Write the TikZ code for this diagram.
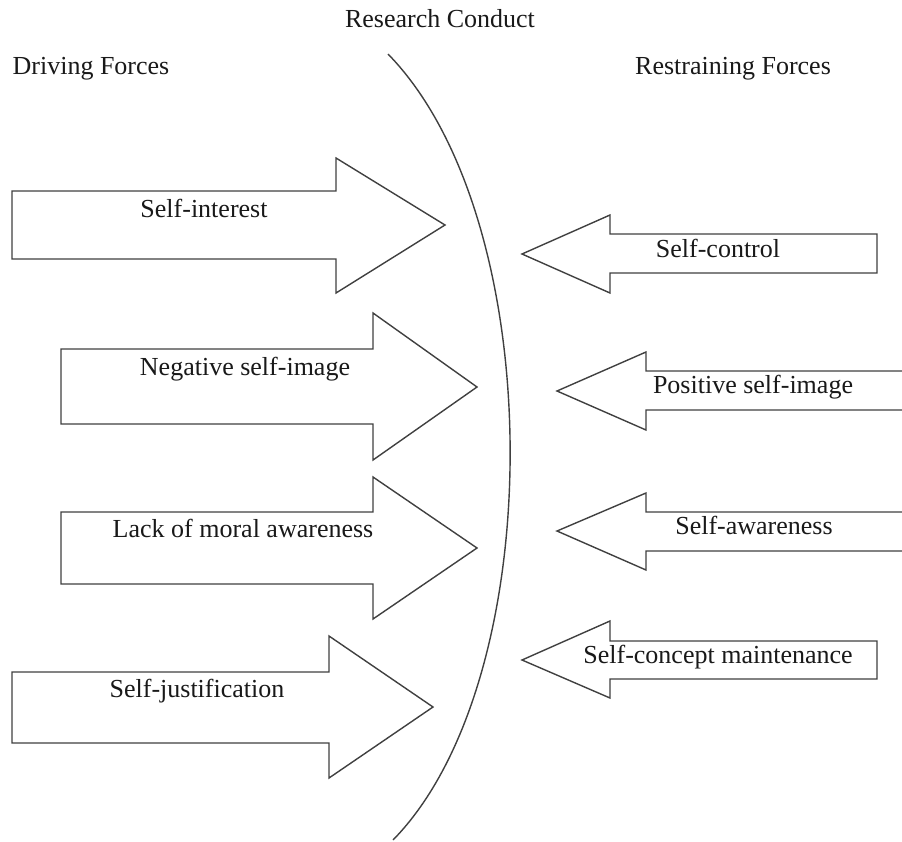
\documentclass[tikz,border=0pt]{standalone}
\usepackage{fontspec}
\setmainfont{Liberation Serif}
\begin{document}
\begin{tikzpicture}[x=1pt,y=-1pt,
  forcearrow/.style={draw=black!75,line width=1.4pt,fill=white,line join=miter},
  lbl/.style={anchor=base,inner sep=0pt,font=\fontsize{26}{30}\selectfont,text=black!90},
  conduct/.style={draw=black!75,line width=1.4pt}]
\useasboundingbox (0,0) rectangle (902,841);
% headings
\node[lbl] (hrc) at (440,27) {Research Conduct};
\node[lbl] (hdf) at (91,74) {Driving Forces};
\node[lbl] (hrf) at (733,74) {Restraining Forces};
% boundary curve
\coordinate (ctop) at (388,54);
\coordinate (cbot) at (393,840);
\draw[conduct] (ctop) .. controls (550,220) and (550,680) .. (cbot);
% driving forces
\draw[forcearrow] (12,191) -- (336,191) -- (336,158) -- (445,225) -- (336,293) -- (336,259) -- (12,259) -- cycle;
\draw[forcearrow] (61,349) -- (373,349) -- (373,313) -- (477,387) -- (373,460) -- (373,424) -- (61,424) -- cycle;
\draw[forcearrow] (61,512) -- (373,512) -- (373,477) -- (477,548) -- (373,619) -- (373,584) -- (61,584) -- cycle;
\draw[forcearrow] (12,672) -- (329,672) -- (329,636) -- (433,707) -- (329,778) -- (329,743) -- (12,743) -- cycle;
% restraining forces
\draw[forcearrow] (522,254) -- (610,215) -- (610,234) -- (877,234) -- (877,273) -- (610,273) -- (610,293) -- cycle;
\fill[white] (646,371) rectangle (903,410);
\draw[forcearrow] (903,371) -- (646,371) -- (646,352) -- (557,391) -- (646,430) -- (646,410) -- (903,410);
\fill[white] (646,512) rectangle (903,551);
\draw[forcearrow] (903,512) -- (646,512) -- (646,493) -- (557,531) -- (646,570) -- (646,551) -- (903,551);
\draw[forcearrow] (522,660) -- (610,621) -- (610,641) -- (877,641) -- (877,679) -- (610,679) -- (610,698) -- cycle;
% labels
\node[lbl] (si) at (204,217) {Self-interest};
\node[lbl] (nsi) at (245,375) {Negative self-image};
\node[lbl] (lma) at (243,537) {Lack of moral awareness};
\node[lbl] (sj) at (197,697) {Self-justification};
\node[lbl] (sc) at (718,257) {Self-control};
\node[lbl] (psi) at (753,393) {Positive self-image};
\node[lbl] (sa) at (754,534) {Self-awareness};
\node[lbl] (scm) at (718,663) {Self-concept maintenance};
\end{tikzpicture}
\end{document}
